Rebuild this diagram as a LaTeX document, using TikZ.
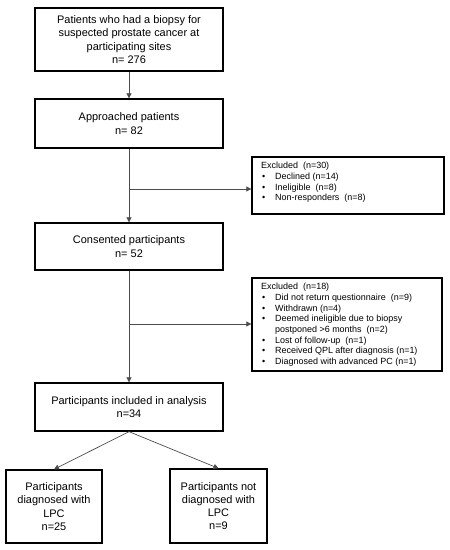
\documentclass[tikz,border=0pt]{standalone}
\usepackage{fontspec}
\setmainfont{Liberation Sans}
\usetikzlibrary{arrows.meta}
\newcommand{\bitem}[1]{\makebox[14bp][l]{\hspace{1bp}\textbullet}#1}
\newcommand{\bcont}[1]{\hspace{14bp}#1}
\begin{document}
\begin{tikzpicture}[x=1bp,y=-1bp,
  mainbox/.style={draw=black,line width=1.3bp,minimum width=188bp,inner sep=2bp,align=center,font=\fontsize{11}{13.3}\selectfont},
  smallbox/.style={draw=black,line width=1.3bp,minimum width=96bp,inner sep=2bp,align=center,font=\fontsize{11}{13.3}\selectfont},
  exframe/.style={draw=black,line width=1.3bp,inner sep=0pt},
  extext/.style={align=left,inner sep=0pt,font=\fontsize{9}{10.7}\selectfont},
  conn/.style={draw=black!70,line width=0.7bp,-{Triangle[length=5bp,width=5bp]}}]
\useasboundingbox (0,0) rectangle (450,550);
\node[mainbox,minimum height=63bp] (b1) at (129,39.5) {Patients who had a biopsy for\\suspected prostate cancer at\\participating sites\\n= 276};
\node[mainbox,minimum height=49bp] (b2) at (129,123.5) {Approached patients\\n= 82};
\node[mainbox,minimum height=47bp] (b3) at (129,246.5) {Consented participants\\n= 52};
\node[mainbox,minimum height=48bp] (b4) at (129,407) {Participants included in analysis\\n=34};
\node[smallbox,minimum height=73bp] (l1) at (54,506.5) {Participants\\diagnosed with\\LPC\\n=25};
\node[smallbox,minimum width=97bp,minimum height=74bp] (r1) at (218.5,506) {Participants not\\diagnosed with\\LPC\\n=9};
\node[exframe,minimum width=192bp,minimum height=57bp] (ex1) at (348,185.5) {};
\node[extext,anchor=north west] (t1) at (261,162) {Excluded\ \ (n=30)\\\bitem{Declined (n=14)}\\\bitem{Ineligible\ \ (n=8)}\\\bitem{Non-responders\ \ (n=8)}};
\node[exframe,minimum width=190bp,minimum height=93bp] (ex2) at (347,324.5) {};
\node[extext,anchor=north west] (t2) at (261,283) {Excluded\ \ (n=18)\\\bitem{Did not return questionnaire\ \ (n=9)}\\\bitem{Withdrawn (n=4)}\\\bitem{Deemed ineligible due to biopsy}\\\bcont{postponed >6 months\ \ (n=2)}\\\bitem{Lost of follow-up\ \ (n=1)}\\\bitem{Received QPL after diagnosis (n=1)}\\\bitem{Diagnosed with advanced PC (n=1)}};
\coordinate (c1) at (129,189);
\coordinate (c2) at (129,324);
\draw[conn] (b1) -- (b2);
\draw[conn] (b2) -- (b3);
\draw[conn] (b3) -- (b4);
\draw[conn] (c1) -- (c1 -| ex1.west);
\draw[conn] (c2) -- (c2 -| ex2.west);
\draw[conn] (b4.south) -- (l1.north);
\draw[conn] (b4.south) -- (r1.north);
\end{tikzpicture}
\end{document}
